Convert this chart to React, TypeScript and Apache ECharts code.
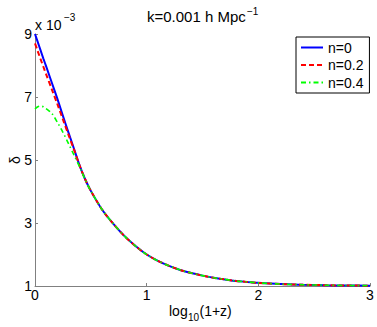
import React, { useEffect, useRef } from "react";
import * as echarts from "echarts";

const xValues = [0, 0.025, 0.05, 0.075, 0.1, 0.15, 0.2, 0.25, 0.3, 0.35, 0.4, 0.45, 0.5, 0.6, 0.7, 0.8, 0.9, 1.0, 1.1, 1.2, 1.3, 1.4, 1.5, 1.6, 1.7, 1.8, 1.9, 2.0, 2.2, 2.4, 2.6, 2.8, 3.0];
const deltaN0 = [9.0, 8.74, 8.48, 8.22, 7.97, 7.46, 6.95, 6.4, 5.87, 5.35, 4.82, 4.38, 4.02, 3.43, 2.98, 2.59, 2.27, 2.0, 1.8, 1.64, 1.51, 1.41, 1.33, 1.26, 1.21, 1.16, 1.13, 1.1, 1.06, 1.04, 1.025, 1.015, 1.01];
const deltaN02 = [8.7, 8.45, 8.2, 7.96, 7.72, 7.25, 6.78, 6.29, 5.8, 5.32, 4.82, 4.38, 4.02, 3.43, 2.98, 2.59, 2.27, 2.0, 1.8, 1.64, 1.51, 1.41, 1.33, 1.26, 1.21, 1.16, 1.13, 1.1, 1.06, 1.04, 1.025, 1.015, 1.01];
const deltaN04 = [6.62, 6.69, 6.71, 6.69, 6.63, 6.48, 6.2, 5.88, 5.52, 5.15, 4.78, 4.37, 4.02, 3.43, 2.98, 2.59, 2.27, 2.0, 1.8, 1.64, 1.51, 1.41, 1.33, 1.26, 1.21, 1.16, 1.13, 1.1, 1.06, 1.04, 1.025, 1.015, 1.01];
const seriesNames = ["n=0", "n=0.2", "n=0.4"];
const yTicks = [1, 3, 5, 7, 9];

const FONT = "Liberation Sans, Arial, sans-serif";

export default function App() {
  const ref = useRef<HTMLDivElement>(null);
  useEffect(() => {
    if (!ref.current) return;
    const chart = echarts.init(ref.current, null, { renderer: "svg" });
    const pairs = (ys: number[]) => xValues.map((x, i) => [x, ys[i]]);
    chart.setOption({
      animation: false,
      backgroundColor: "#ffffff",
      textStyle: { fontFamily: FONT },
      grid: { left: 35, right: 7, top: 34, bottom: 41, containLabel: false },
      legend: {
        data: seriesNames,
        orient: "vertical",
        left: 296,
        top: 37,
        padding: [3.5, 6, 3.5, 4],
        itemGap: 3.5,
        itemWidth: 22,
        itemHeight: 14,
        borderColor: "#000000",
        borderWidth: 1,
        borderRadius: 0,
        backgroundColor: "#ffffff",
        itemStyle: { opacity: 0 },
        textStyle: { fontSize: 14, color: "#000000", fontFamily: FONT },
      },
      xAxis: {
        type: "value",
        min: 0,
        max: 3,
        interval: 1,
        axisLine: { show: true, lineStyle: { color: "#808080", width: 1 } },
        axisTick: { show: true, inside: true, length: 3, lineStyle: { color: "#808080" } },
        axisLabel: { show: true, color: "#000000", fontSize: 14, margin: 2, fontFamily: FONT, showMinLabel: true, showMaxLabel: true },
        splitLine: { show: false },
      },
      yAxis: {
        type: "value",
        min: 1,
        max: 9,
        axisLine: { show: true, lineStyle: { color: "#808080", width: 1 } },
        axisTick: { show: true, inside: true, length: 3, lineStyle: { color: "#808080" }, customValues: yTicks },
        axisLabel: { show: true, color: "#000000", fontSize: 14, margin: 3, fontFamily: FONT, customValues: yTicks },
        splitLine: { show: false },
      },
      series: [
        {
          name: seriesNames[0],
          type: "line",
          data: pairs(deltaN0),
          symbol: "none",
          smooth: 0.3,
          lineStyle: { color: "#0000ff", width: 2, type: "solid" },
          itemStyle: { color: "#0000ff" },
        },
        {
          name: seriesNames[1],
          type: "line",
          data: pairs(deltaN02),
          symbol: "none",
          smooth: 0.3,
          lineStyle: { color: "#ff0000", width: 2, type: [5, 3] },
          itemStyle: { color: "#ff0000" },
        },
        {
          name: seriesNames[2],
          type: "line",
          data: pairs(deltaN04),
          symbol: "none",
          smooth: 0.3,
          lineStyle: { color: "#00ff00", width: 1.6, type: [5, 3, 1.5, 3] },
          itemStyle: { color: "#00ff00" },
        },
      ],
      graphic: [
        { type: "text", x: 147, y: 16, style: { text: "k=0.001 h Mpc", fill: "#000", font: `15px ${FONT}`, textAlign: "left", textVerticalAlign: "middle" } },
        { type: "text", x: 247, y: 11, style: { text: "−1", fill: "#000", font: `10px ${FONT}`, textAlign: "left", textVerticalAlign: "middle" } },
        { type: "text", x: 35, y: 25, style: { text: "x 10", fill: "#000", font: `14px ${FONT}`, textAlign: "left", textVerticalAlign: "middle" } },
        { type: "text", x: 64, y: 17, style: { text: "−3", fill: "#000", font: `10px ${FONT}`, textAlign: "left", textVerticalAlign: "middle" } },
        { type: "text", x: 169, y: 311, style: { text: "log", fill: "#000", font: `14px ${FONT}`, textAlign: "left", textVerticalAlign: "middle" } },
        { type: "text", x: 188, y: 317, style: { text: "10", fill: "#000", font: `10px ${FONT}`, textAlign: "left", textVerticalAlign: "middle" } },
        { type: "text", x: 199.5, y: 311, style: { text: "(1+z)", fill: "#000", font: `14px ${FONT}`, textAlign: "left", textVerticalAlign: "middle" } },
        { type: "text", x: 15, y: 160, rotation: Math.PI / 2, style: { text: "δ", fill: "#000", font: `14px ${FONT}`, textAlign: "center", textVerticalAlign: "middle" } },
      ],
    });
    return () => chart.dispose();
  }, []);
  return (
    <div
      ref={ref}
      style={{ position: "absolute", left: 0, top: 0, width: 377, height: 327 }}
    />
  );
}
